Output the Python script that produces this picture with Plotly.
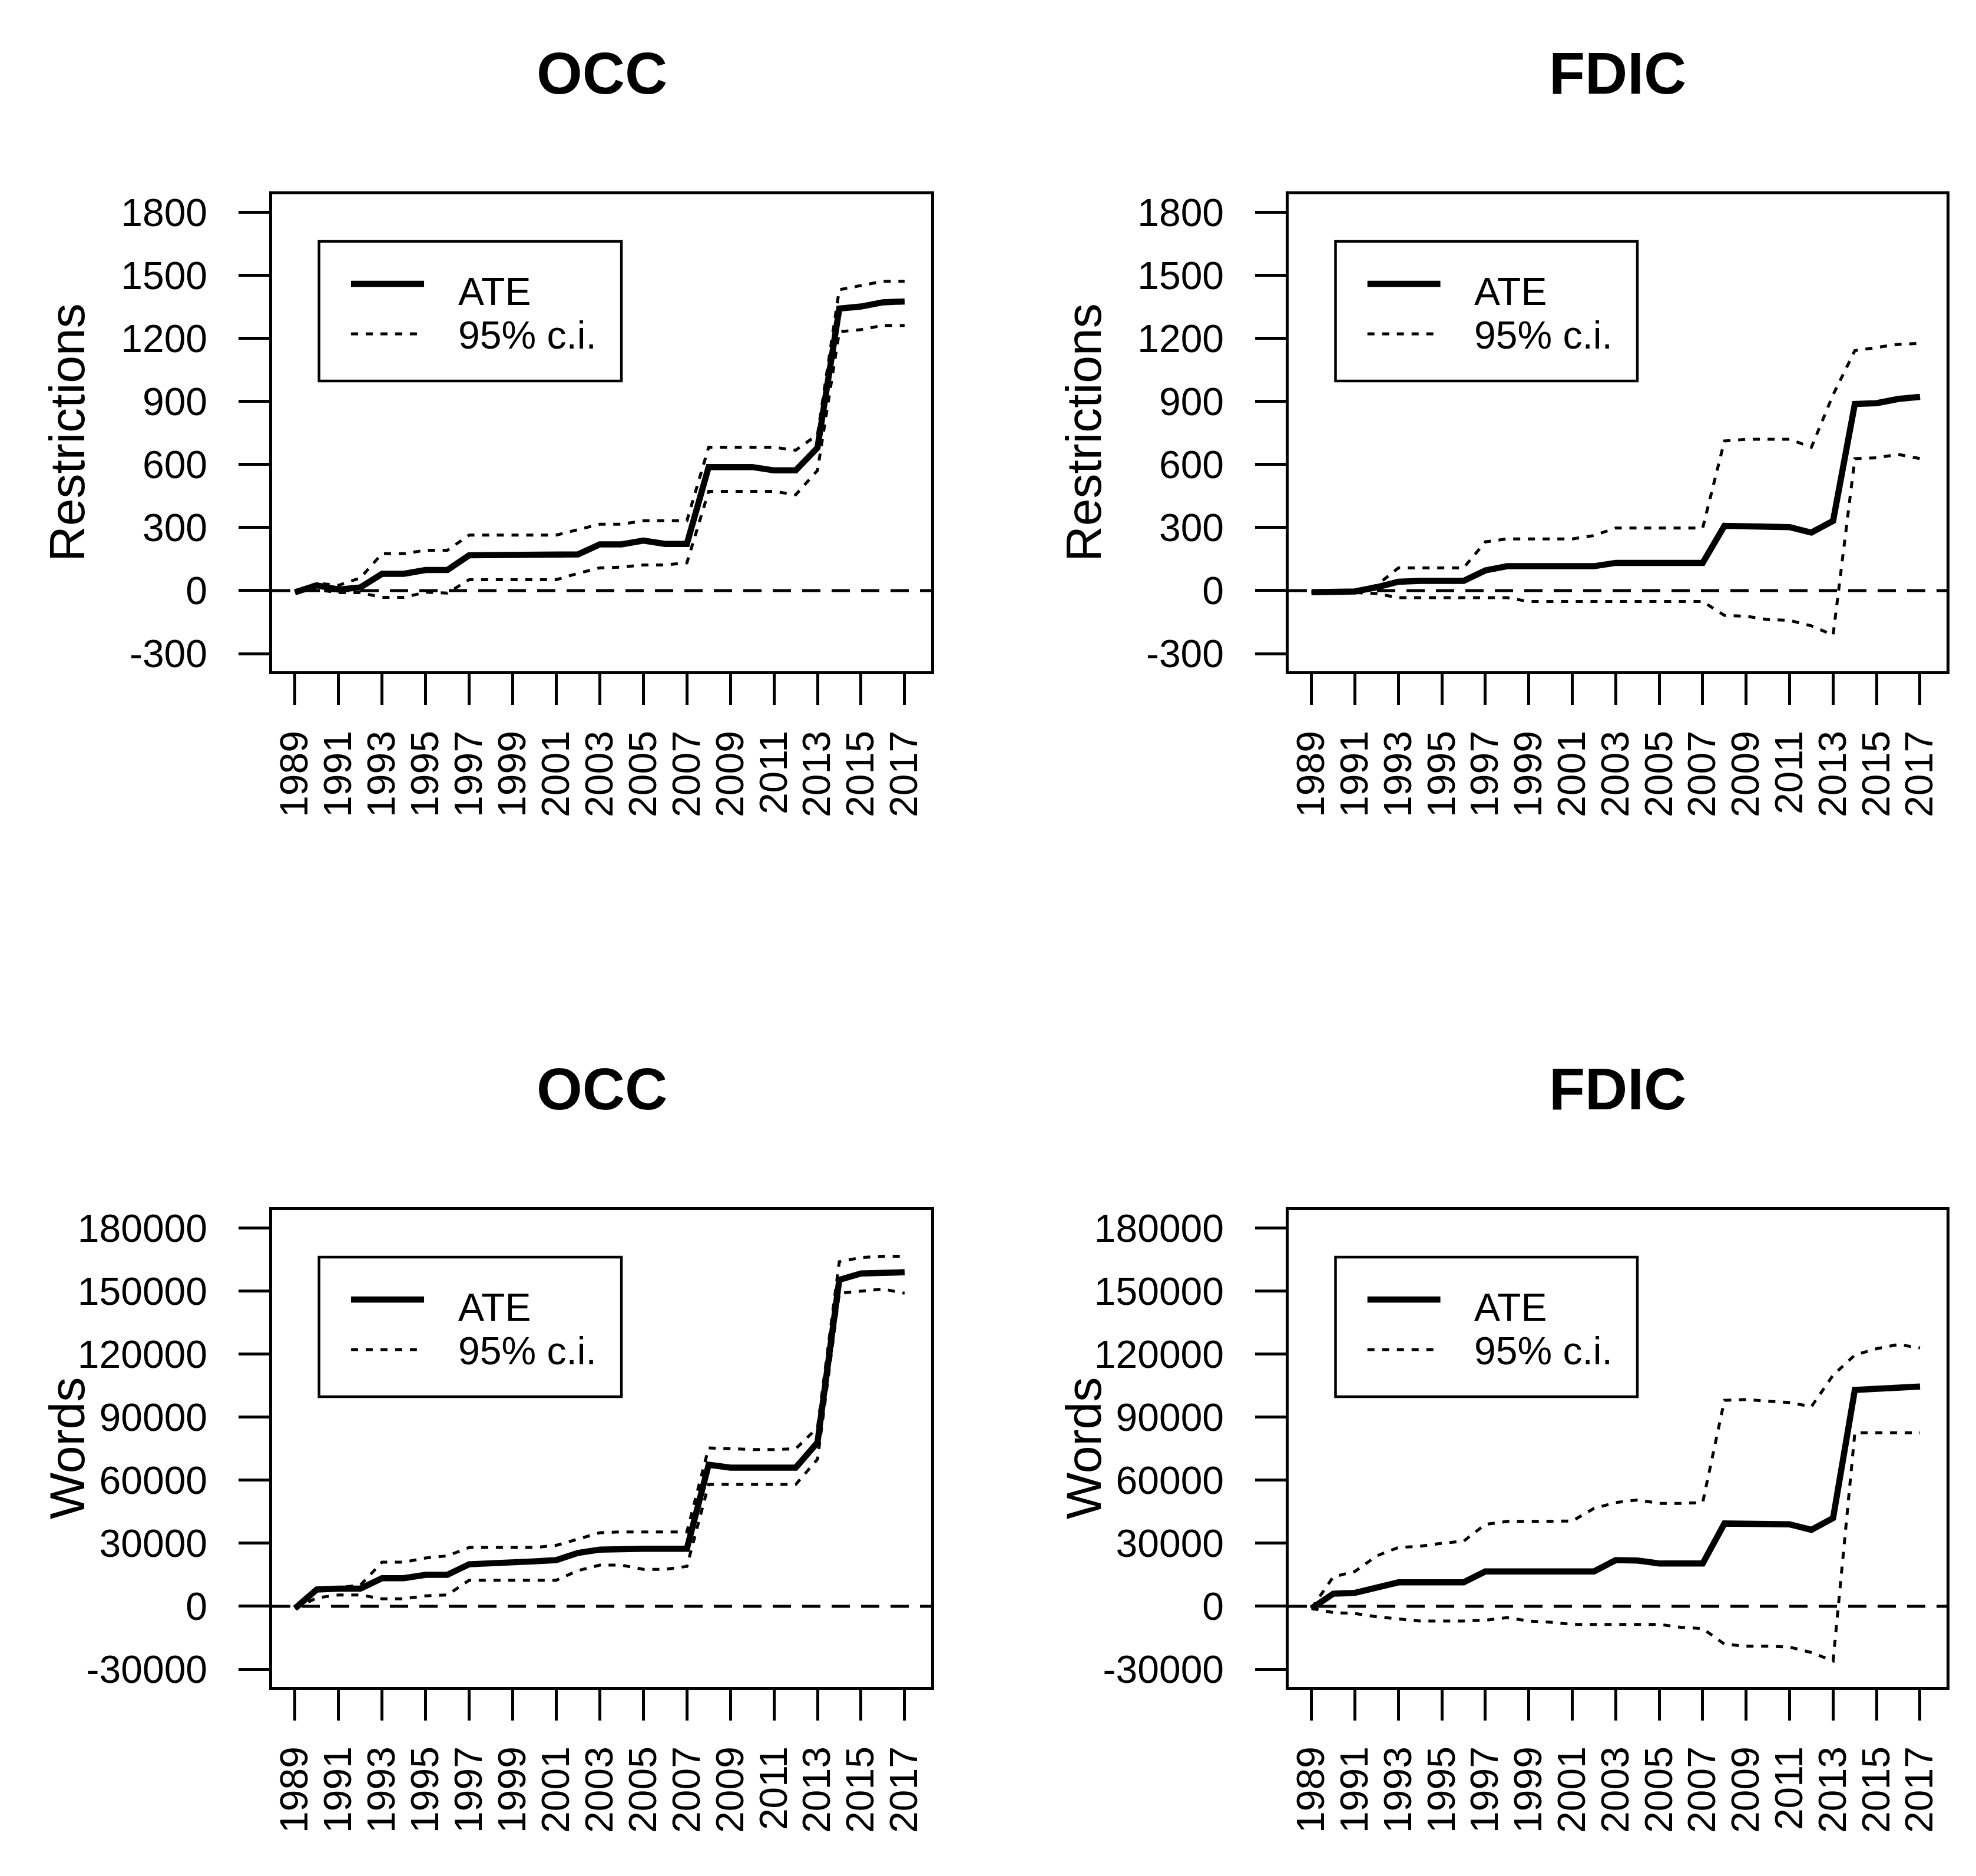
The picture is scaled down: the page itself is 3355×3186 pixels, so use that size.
import plotly.graph_objects as go

years = list(range(1989, 2018))
tick_years = list(range(1989, 2018, 2))
tick_text = [str(y) for y in tick_years]

restr_ticks = [-300, 0, 300, 600, 900, 1200, 1500, 1800]
words_ticks = [-30000, 0, 30000, 60000, 90000, 120000, 150000, 180000]

occ_r_ate = [-8, 25, 5, 15, 80, 80, 98, 98, 168, 168, 168, 168, 168, 172, 220, 220, 238, 222, 222,
             588, 588, 588, 572, 572, 680, 1342, 1352, 1372, 1376]
occ_r_hi = [-8, 35, 25, 60, 176, 176, 192, 192, 264, 264, 264, 264, 264, 290, 316, 316, 332, 332, 332,
            682, 682, 682, 682, 668, 742, 1432, 1452, 1472, 1472]
occ_r_lo = [-8, 5, -10, -10, -32, -32, -8, -12, 52, 52, 52, 52, 52, 82, 108, 112, 122, 122, 132,
            472, 472, 472, 472, 456, 572, 1232, 1242, 1262, 1262]

fdic_r_ate = [-8, -8, -4, 16, 42, 46, 46, 46, 96, 116, 116, 116, 116, 116, 132, 132, 132, 132, 132,
              308, 308, 308, 302, 276, 332, 888, 892, 912, 922]
fdic_r_hi = [-8, -4, 0, 25, 108, 108, 108, 108, 232, 246, 246, 246, 246, 262, 298, 298, 298, 298, 298,
             712, 720, 720, 720, 682, 932, 1142, 1158, 1172, 1176]
fdic_r_lo = [-8, -12, -10, -14, -34, -34, -34, -34, -34, -34, -52, -52, -52, -52, -52, -52, -52, -52, -52,
             -118, -122, -138, -142, -168, -212, 628, 632, 648, 628]

occ_w_ate = [-1000, 8000, 8400, 8400, 13400, 13400, 15000, 15000, 20000, 20400, 20400, 21400, 22000,
             25400, 27000, 27400, 27400, 27400, 27400, 67400, 66000, 66000, 66000, 66000, 78000,
             155400, 158400, 159000, 159000]
occ_w_hi = [-1000, 8500, 9000, 10000, 21000, 21000, 23000, 24000, 28000, 28000, 28000, 28000, 29000,
            32000, 35000, 35400, 35400, 35400, 35400, 75400, 75000, 74600, 74600, 75000, 85000,
            164000, 166000, 166600, 166600]
occ_w_lo = [-1000, 4000, 5400, 5400, 3600, 3600, 5000, 5400, 12400, 12400, 12400, 12400, 12400,
            17000, 19600, 19600, 17600, 17600, 19000, 58000, 58000, 58000, 58000, 58000, 70000,
            149000, 150000, 151000, 149000]

fdic_w_ate = [-1000, 6000, 6400, 9000, 11400, 11400, 11400, 11400, 16600, 16600, 16600, 16600, 16600,
              16600, 22000, 21800, 20400, 20400, 20400, 39400, 39400, 39400, 39000, 36400, 42000,
              103000, 103400, 104000, 104600]
fdic_w_hi = [-1000, 14000, 16600, 24000, 28000, 28600, 30000, 31000, 39000, 40400, 40400, 40400, 40600,
             46600, 49400, 50600, 49000, 49000, 49400, 98000, 98400, 97600, 97000, 95000, 110000,
             119600, 122600, 124600, 123000]
fdic_w_lo = [-1000, -3000, -3400, -5000, -6000, -7000, -7000, -7000, -6600, -5400, -7000, -7600, -8600,
             -8600, -8600, -8600, -8600, -10000, -10600, -18000, -19000, -19000, -19400, -22000, -26000,
             82600, 82600, 82600, 82600]

titles = ["OCC", "FDIC", "OCC", "FDIC"]
ylabels = ["Restrictions", "Restrictions", "Words", "Words"]
legend_labels = ["ATE", "95% c.i."]

W, H = 3355, 3186
FONT = "Liberation Sans, Arial, sans-serif"

panels = [
    dict(ate=occ_r_ate, hi=occ_r_hi, lo=occ_r_lo, ticks=restr_ticks, yr=[-384, 1886],
         xd=[454 / W, 1573 / W], yd=[1 - 1132 / H, 1 - 322 / H]),
    dict(ate=fdic_r_ate, hi=fdic_r_hi, lo=fdic_r_lo, ticks=restr_ticks, yr=[-384, 1886],
         xd=[2180 / W, 3297 / W], yd=[1 - 1132 / H, 1 - 322 / H]),
    dict(ate=occ_w_ate, hi=occ_w_hi, lo=occ_w_lo, ticks=words_ticks, yr=[-38400, 188600],
         xd=[454 / W, 1573 / W], yd=[1 - 2857 / H, 1 - 2047 / H]),
    dict(ate=fdic_w_ate, hi=fdic_w_hi, lo=fdic_w_lo, ticks=words_ticks, yr=[-38400, 188600],
         xd=[2180 / W, 3297 / W], yd=[1 - 2857 / H, 1 - 2047 / H]),
]

DOT = "12px,13px"
DASH0 = "31px,19px"

fig = go.Figure()
shapes = []
annotations = []
layout_axes = {}

for i, p in enumerate(panels):
    n = "" if i == 0 else str(i + 1)
    xa, ya = "x" + n, "y" + n
    for key, width, dash in (("hi", 5, DOT), ("lo", 5, DOT), ("ate", 10.5, "solid")):
        fig.add_trace(go.Scatter(x=years, y=p[key], mode="lines", xaxis=xa, yaxis=ya,
                                 line=dict(color="black", width=width, dash=dash),
                                 showlegend=False, hoverinfo="skip"))
    common = dict(showline=True, mirror=True, linecolor="black", linewidth=4.5,
                  ticks="outside", ticklen=52, tickwidth=5, tickcolor="black",
                  showgrid=False, zeroline=False, automargin=False,
                  tickfont=dict(family=FONT, size=66, color="black"))
    layout_axes["xaxis" + n] = dict(common, domain=p["xd"], range=[1987.95, 2018.22],
                                    tickmode="array", tickvals=tick_years, ticktext=tick_text,
                                    tickangle=-90, ticklabelstandoff=18, anchor=ya)
    layout_axes["yaxis" + n] = dict(common, domain=p["yd"], range=p["yr"],
                                    tickmode="array", tickvals=p["ticks"],
                                    ticktext=[str(t) for t in p["ticks"]],
                                    ticklabelstandoff=40, anchor=xa)
    xdr, ydr = xa + " domain", ya + " domain"
    # zero reference line
    shapes.append(dict(type="line", xref=xdr, yref=ya, x0=0, x1=1, y0=0, y1=0,
                       line=dict(color="black", width=5, dash=DASH0)))
    # legend box
    shapes.append(dict(type="rect", xref=xdr, yref=ydr, x0=0.0712, x1=0.530, y0=0.6086, y1=0.9012,
                       line=dict(color="black", width=4.5), fillcolor="white"))
    shapes.append(dict(type="line", xref=xdr, yref=ydr, x0=0.1197, x1=0.2306, y0=0.8123, y1=0.8123,
                       line=dict(color="black", width=10.5)))
    shapes.append(dict(type="line", xref=xdr, yref=ydr, x0=0.1197, x1=0.2306, y0=0.7074, y1=0.7074,
                       line=dict(color="black", width=5, dash=DOT)))
    annotations.append(dict(xref=xdr, yref=ydr, x=0.2806, y=0.7963, text=legend_labels[0],
                            showarrow=False, xanchor="left", yanchor="middle",
                            font=dict(family=FONT, size=66, color="black")))
    annotations.append(dict(xref=xdr, yref=ydr, x=0.2806, y=0.7049, text=legend_labels[1],
                            showarrow=False, xanchor="left", yanchor="middle",
                            font=dict(family=FONT, size=66, color="black")))
    # title
    top_px = 322 if i < 2 else 2047
    annotations.append(dict(xref=xdr, yref="paper", x=0.5, y=1 - (top_px - 206) / H, text="<b>%s</b>" % titles[i],
                            showarrow=False, xanchor="center", yanchor="middle",
                            font=dict(family=FONT, size=100, color="black")))
    # y label
    left_px = 454 if i % 2 == 0 else 2180
    mid = (p["yd"][0] + p["yd"][1]) / 2
    annotations.append(dict(xref="paper", yref="paper", x=(left_px - 348) / W, y=mid, text=ylabels[i],
                            showarrow=False, xanchor="center", yanchor="middle", textangle=-90,
                            font=dict(family=FONT, size=84, color="black")))

fig.update_layout(width=W, height=H, margin=dict(l=0, r=0, t=0, b=0),
                  paper_bgcolor="white", plot_bgcolor="white", template="none",
                  shapes=shapes, annotations=annotations, showlegend=False, **layout_axes)

fig.write_html("out.html")
